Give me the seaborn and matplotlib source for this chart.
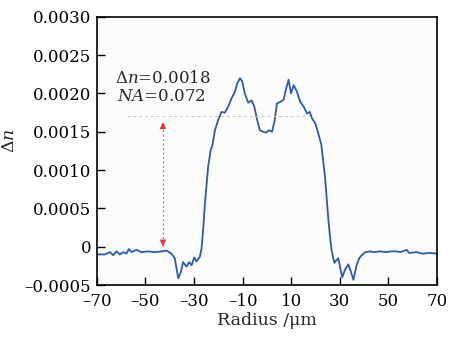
import numpy as np
import pandas as pd
import matplotlib
matplotlib.use("Agg")
import matplotlib.pyplot as plt
import seaborn as sns

# Profil de l'indice de réfraction
radius = [-70.0, -66.7, -64.6, -63.3, -61.9, -60.5, -59.2, -57.8, -56.8, -55.7,
          -53.7, -51.6, -48.9, -46.1, -43.4, -41.3, -39.3, -37.9, -37.2, -36.5,
          -35.4, -34.5, -33.1, -32.0, -31.0, -29.9, -29.0, -27.6, -26.9, -26.2,
          -25.5, -24.2, -23.2, -22.4, -21.4, -20.1, -18.7, -17.3, -15.9, -14.5,
          -13.2, -12.2, -11.1, -10.2, -9.1, -7.7, -6.3, -5.2, -4.2, -2.9,
          -1.5, -0.4, 0.9, 2.1, 3.2, 4.1, 5.5, 6.9, 7.8, 8.9,
          9.9, 11.0, 12.4, 13.7, 15.1, 16.5, 17.6, 18.5, 19.9, 21.3,
          22.4, 23.9, 25.3, 25.9, 26.6, 27.3, 27.8, 28.7, 29.4, 30.0,
          31.0, 32.1, 33.5, 34.5, 35.6, 36.9, 38.0, 39.0, 40.5, 42.4,
          44.0, 46.5, 49.0, 51.0, 53.4, 55.0, 57.5, 58.5, 61.6, 64.0,
          67.0, 70.0]
delta_n = [-0.00010, -0.00010, -0.00007, -0.00011, -0.00006, -0.00010, -0.00007, -0.00009, -0.00003, -0.00007,
           -0.00004, -0.00007, -0.00006, -0.00007, -0.00006, -0.00005, -0.00009, -0.00015, -0.00028, -0.00041,
           -0.00033, -0.00020, -0.00026, -0.00020, -0.00024, -0.00014, -0.00019, -0.00013, -0.00002, 0.00024,
           0.00057, 0.00104, 0.00125, 0.00133, 0.00152, 0.00165, 0.00176, 0.00175, 0.00183, 0.00194,
           0.00202, 0.00213, 0.00220, 0.00216, 0.00200, 0.00188, 0.00191, 0.00183, 0.00168, 0.00152,
           0.00150, 0.00149, 0.00152, 0.00150, 0.00165, 0.00187, 0.00189, 0.00192, 0.00205, 0.00218,
           0.00200, 0.00211, 0.00202, 0.00189, 0.00183, 0.00174, 0.00176, 0.00168, 0.00161, 0.00146,
           0.00133, 0.00091, 0.00035, 0.00015, -0.00004, -0.00015, -0.00021, -0.00017, -0.00015, -0.00025,
           -0.00040, -0.00030, -0.00023, -0.00032, -0.00043, -0.00024, -0.00015, -0.00011, -0.00007, -0.00006,
           -0.00007, -0.00006, -0.00007, -0.00006, -0.00006, -0.00007, -0.00004, -0.00008, -0.00007, -0.00009,
           -0.00008, -0.00009]

x_ticks = [-70, -50, -30, -10, 10, 30, 50, 70]
x_ticklabels = ['\u201370', '\u201350', '\u201330', '\u201310', '10', '30', '50', '70']
y_ticks = [-0.0005, 0, 0.0005, 0.0010, 0.0015, 0.0020, 0.0025, 0.0030]
y_ticklabels = ['\u20130.0005', '0', '0.0005', '0.0010', '0.0015', '0.0020', '0.0025', '0.0030']

# Annotation Δn
arrow_x = -42.8
level_top = 0.0017
level_base = -0.00003

df = pd.DataFrame({'radius': radius, 'dn': delta_n})

sns.set_style("ticks")
plt.rcParams['font.family'] = ['DejaVu Serif']
plt.rcParams['mathtext.fontset'] = 'dejavuserif'

fig, ax = plt.subplots(figsize=(4.61, 3.37), dpi=100)
fig.subplots_adjust(left=0.21, right=0.948, bottom=0.154, top=0.95)
ax.set_facecolor('#fbfbfb')

sns.lineplot(data=df, x='radius', y='dn', ax=ax, color='#2b5bab', linewidth=1.3, sort=False)

# ligne de niveau + flèche rouge
ax.plot([-57.6, 17.7], [level_top, level_top], color='#c8c8c8', linestyle='--',
        linewidth=0.7, dashes=(3, 3))
ax.plot([arrow_x, arrow_x], [level_base + 0.00008, level_top - 0.00008], color='#ff5a5a',
        linestyle='--', linewidth=0.8, dashes=(2, 2))
ax.annotate('', xy=(arrow_x, level_top - 0.00004), xytext=(arrow_x, level_top - 0.00014),
            arrowprops=dict(arrowstyle='-|>', color='#f03030', lw=0.8, mutation_scale=9))
ax.annotate('', xy=(arrow_x, level_base), xytext=(arrow_x, level_base + 0.0001),
            arrowprops=dict(arrowstyle='-|>', color='#f03030', lw=0.8, mutation_scale=9))

ax.text(-62.6, 0.00220, '$\\Delta n$=0.0018', fontsize=12, va='center', ha='left')
ax.text(-61.5, 0.00196, '$NA$=0.072', fontsize=12, va='center', ha='left')

ax.set_xlim(-70, 70)
ax.set_ylim(-0.0005, 0.0030)
ax.set_xticks(x_ticks)
ax.set_xticklabels(x_ticklabels)
ax.set_yticks(y_ticks)
ax.set_yticklabels(y_ticklabels)
ax.tick_params(axis='both', direction='in', length=6, width=1.0, labelsize=12,
               colors='black', top=False, right=False)
ax.tick_params(axis='x', pad=6)
ax.tick_params(axis='y', pad=4)
for s in ax.spines.values():
    s.set_visible(True)
    s.set_color('black')
    s.set_linewidth(1.2)

ax.set_xlabel('Radius /\u03bcm', fontsize=12.5, labelpad=1)
ax.set_ylabel('$\\Delta n$', fontsize=12.5)
ax.yaxis.set_label_coords(-0.232, 0.54)

fig.savefig('out.png', dpi=100, facecolor='white')
